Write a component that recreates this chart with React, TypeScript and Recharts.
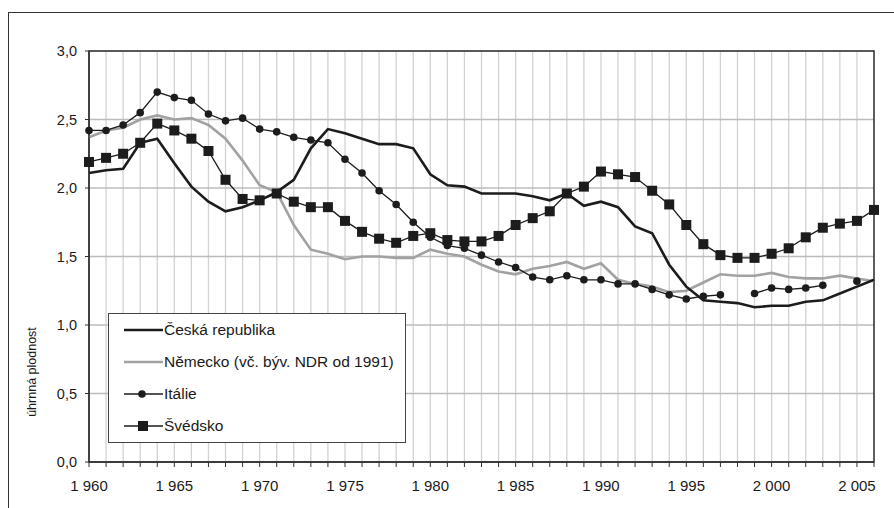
import { LineChart, Line, XAxis, YAxis, CartesianGrid, ReferenceArea } from "recharts"

const years = [
  1960, 1961, 1962, 1963, 1964, 1965, 1966, 1967, 1968, 1969,
  1970, 1971, 1972, 1973, 1974, 1975, 1976, 1977, 1978, 1979,
  1980, 1981, 1982, 1983, 1984, 1985, 1986, 1987, 1988, 1989,
  1990, 1991, 1992, 1993, 1994, 1995, 1996, 1997, 1998, 1999,
  2000, 2001, 2002, 2003, 2004, 2005, 2006,
]

const czech = [
  2.11, 2.13, 2.14, 2.33, 2.36, 2.18, 2.01, 1.9, 1.83, 1.86,
  1.91, 1.97, 2.06, 2.29, 2.43, 2.4, 2.36, 2.32, 2.32, 2.29,
  2.1, 2.02, 2.01, 1.96, 1.96, 1.96, 1.94, 1.91, 1.96, 1.87,
  1.9, 1.86, 1.72, 1.67, 1.44, 1.28, 1.18, 1.17, 1.16, 1.13,
  1.14, 1.14, 1.17, 1.18, 1.23, 1.28, 1.33,
]

const germany = [
  2.37, 2.42, 2.44, 2.5, 2.53, 2.5, 2.51, 2.46, 2.36, 2.2,
  2.02, 1.97, 1.73, 1.55, 1.52, 1.48, 1.5, 1.5, 1.49, 1.49,
  1.55, 1.52, 1.5, 1.44, 1.39, 1.37, 1.41, 1.43, 1.46, 1.41,
  1.45, 1.33, 1.3, 1.28, 1.24, 1.25, 1.31, 1.37, 1.36, 1.36,
  1.38, 1.35, 1.34, 1.34, 1.36, 1.34, 1.32,
]

const italy = [
  2.42, 2.42, 2.46, 2.55, 2.7, 2.66, 2.64, 2.54, 2.49, 2.51,
  2.43, 2.41, 2.37, 2.35, 2.33, 2.21, 2.11, 1.98, 1.88, 1.75,
  1.64, 1.58, 1.56, 1.51, 1.46, 1.42, 1.35, 1.33, 1.36, 1.33,
  1.33, 1.3, 1.3, 1.26, 1.22, 1.19, 1.21, 1.22, null, 1.23,
  1.27, 1.26, 1.27, 1.29, null, 1.32, null,
]

const sweden = [
  2.19, 2.22, 2.25, 2.33, 2.47, 2.42, 2.36, 2.27, 2.06, 1.92,
  1.91, 1.96, 1.9, 1.86, 1.86, 1.76, 1.68, 1.63, 1.6, 1.65,
  1.67, 1.62, 1.61, 1.61, 1.65, 1.73, 1.78, 1.83, 1.96, 2.01,
  2.12, 2.1, 2.08, 1.98, 1.88, 1.73, 1.59, 1.51, 1.49, 1.49,
  1.52, 1.56, 1.64, 1.71, 1.74, 1.76, 1.84,
]

const yTicks = [0, 0.5, 1, 1.5, 2, 2.5, 3]

const seriesNames = [
  "Česká republika",
  "Německo (vč. býv. NDR od 1991)",
  "Itálie",
  "Švédsko",
]

const data = years.map((year, i) => ({
  year,
  cz: czech[i],
  de: germany[i],
  it: italy[i],
  se: sweden[i],
}))

const FONT = '"Liberation Sans", Arial, sans-serif'
const DARK = "#1c1c1c"
const GRAY = "#a2a2a2"

const SquareDot = (props: any) => {
  const { cx, cy, index } = props
  if (cx == null || cy == null) return <g key={`sq-${index}`} />
  return <rect key={`sq-${index}`} x={cx - 5} y={cy - 5} width={10} height={10} fill={DARK} />
}

// legend sits over the plot, bottom left
const LegendBox = () => (
  <div
    style={{
      position: "absolute",
      left: 99,
      top: 300,
      width: 298,
      height: 130,
      boxSizing: "border-box",
      border: "1px solid #444",
      background: "#fff",
      fontFamily: FONT,
      fontSize: 15.5,
      color: "#1a1a1a",
    }}
  >
    {seriesNames.map((name, i) => (
      <div key={name} style={{ height: 32, display: "flex", alignItems: "center" }}>
        <svg width={55} height={14} style={{ flex: "none" }}>
          {i === 0 && <line x1={15} x2={54} y1={7} y2={7} stroke={DARK} strokeWidth={2.6} />}
          {i === 1 && <line x1={15} x2={54} y1={7} y2={7} stroke={GRAY} strokeWidth={2.6} />}
          {i === 2 && (
            <>
              <line x1={15} x2={54} y1={7} y2={7} stroke={DARK} strokeWidth={1.3} />
              <circle cx={33} cy={7} r={3.8} fill={DARK} />
            </>
          )}
          {i === 3 && (
            <>
              <line x1={15} x2={54} y1={7} y2={7} stroke={DARK} strokeWidth={1.3} />
              <rect x={29} y={2} width={10} height={10} fill={DARK} />
            </>
          )}
        </svg>
        <span style={{ whiteSpace: "nowrap" }}>{name}</span>
      </div>
    ))}
  </div>
)

const App = () => {
  return (
    <div
      style={{
        position: "absolute",
        left: 8,
        top: 12,
        width: 886,
        height: 496,
        boxSizing: "border-box",
        borderLeft: "1px solid #333",
        borderTop: "1px solid #333",
        overflow: "hidden",
        background: "#fff",
      }}
    >
      <div
        style={{
          position: "absolute",
          left: 23,
          top: 359,
          transform: "translate(-50%, -50%) rotate(-90deg)",
          fontFamily: FONT,
          fontSize: 12.5,
          color: "#1a1a1a",
          whiteSpace: "nowrap",
        }}
      >
        úhrnná plodnost
      </div>
      <LineChart
        width={885}
        height={494}
        data={data}
        margin={{ top: 38, right: 20, bottom: 0, left: 0 }}
        style={{ fontFamily: FONT }}
      >
        <CartesianGrid horizontal={false} stroke="#d2d2d2" strokeWidth={1.3} />
        <CartesianGrid vertical={false} stroke="#bcbcbc" strokeWidth={1.6} />
        <XAxis
          dataKey="year"
          type="number"
          domain={[1960, 2006]}
          ticks={years}
          interval={0}
          tickFormatter={(v: number) => (v % 5 === 0 ? `${Math.floor(v / 1000)} ${String(v % 1000).padStart(3, "0")}` : "")}
          tick={{ fill: "#1a1a1a", fontSize: 15 }}
          tickSize={5}
          tickMargin={13}
          height={45}
          axisLine={{ stroke: "#333", strokeWidth: 1.3 }}
          tickLine={{ stroke: "#333" }}
        />
        <YAxis
          domain={[0, 3]}
          ticks={yTicks}
          interval={0}
          tickFormatter={(v: number) => v.toFixed(1).replace(".", ",")}
          tick={{ fill: "#1a1a1a", fontSize: 14.5 }}
          tickSize={4}
          tickMargin={8}
          width={80}
          axisLine={{ stroke: "#333", strokeWidth: 1.3 }}
          tickLine={{ stroke: "#333" }}
        />
        <ReferenceArea x1={1960} x2={2006} y1={0} y2={3} fill="none" stroke="#333" strokeWidth={1.5} />
        <Line
          dataKey="de"
          name={seriesNames[1]}
          stroke={GRAY}
          strokeWidth={2.6}
          dot={false}
          isAnimationActive={false}
        />
        <Line
          dataKey="cz"
          name={seriesNames[0]}
          stroke={DARK}
          strokeWidth={2.6}
          dot={false}
          isAnimationActive={false}
        />
        <Line
          dataKey="it"
          name={seriesNames[2]}
          stroke={DARK}
          strokeWidth={1.3}
          dot={{ r: 3.8, fill: DARK, stroke: "none" }}
          isAnimationActive={false}
        />
        <Line
          dataKey="se"
          name={seriesNames[3]}
          stroke={DARK}
          strokeWidth={1.3}
          dot={SquareDot}
          isAnimationActive={false}
        />
      </LineChart>
      <LegendBox />
    </div>
  )
}

export default App
